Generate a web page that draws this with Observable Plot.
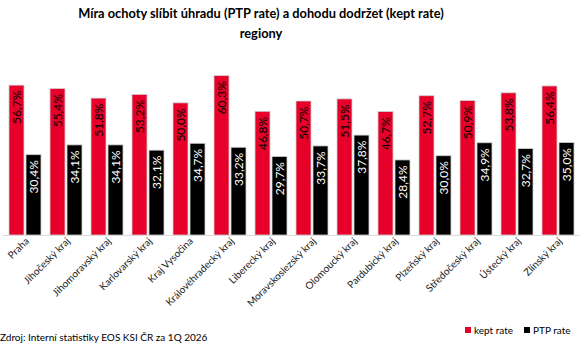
<!DOCTYPE html>
<html><head><meta charset="utf-8">
<script src="https://cdn.jsdelivr.net/npm/d3@7"></script>
<script src="https://cdn.jsdelivr.net/npm/@observablehq/plot@0.6"></script>
<style>
body{margin:0;width:584px;height:357px;position:relative;background:#fff;font-family:Lato,"Open Sans",sans-serif;overflow:hidden}
#title{position:absolute;left:0;top:3px;width:522px;text-align:center;font-weight:bold;font-size:12.8px;line-height:20px;color:#000}
#chart{position:absolute;left:0;top:40px}
#caption{position:absolute;left:0;top:331px;font-size:10px;color:#000}
#legend{position:absolute;left:465px;top:324px;font-size:10px;color:#000;display:flex;align-items:center}
#legend span.sw{display:inline-block;width:6px;height:6px;margin-right:3px}
#legend span.it{display:flex;align-items:center;margin-right:11px}
</style></head>
<body>
<div id="title">Míra ochoty slíbit úhradu (PTP rate) a dohodu dodržet (kept rate)<br>regiony</div>
<div id="chart"></div>
<div id="caption">Zdroj: Interní statistiky EOS KSI ČR za 1Q 2026</div>
<div id="legend"></div>
<script>
const regions = ["Praha","Jihočeský kraj","Jihomoravský kraj","Karlovarský kraj","Kraj Vysočina","Královéhradecký kraj","Liberecký kraj","Moravskoslezský kraj","Olomoucký kraj","Pardubický kraj","Plzeňský kraj","Středočeský kraj","Ústecký kraj","Zlínský kraj"];
const keptRate = [56.7,55.4,51.8,53.2,50.0,60.3,46.8,50.7,51.5,46.7,52.7,50.9,53.8,56.4];
const ptpRate  = [30.4,34.1,34.1,32.1,34.7,33.2,29.7,33.7,37.8,28.4,30.0,34.9,32.7,35.0];
const seriesNames = ["kept rate","PTP rate"];
const seriesColors = ["#e6002a","#000000"];
const labelColors = ["#000000","#ffffff"];

const data = [];
regions.forEach((r,i)=>{
  data.push({region:r, series:seriesNames[0], value:keptRate[i]});
  data.push({region:r, series:seriesNames[1], value:ptpRate[i]});
});
const fmt = v => v.toFixed(1).replace(".", ",") + "%";

const chart = Plot.plot({
  width:584, height:280,
  marginLeft:2, marginRight:3, marginTop:10, marginBottom:85,
  style:{fontFamily:"Lato, 'Open Sans', sans-serif", background:"transparent"},
  fx:{domain:regions, padding:0.18, label:null},
  x:{domain:seriesNames, paddingInner:0.11, paddingOuter:0, axis:null},
  y:{domain:[0,70], axis:null},
  color:{domain:seriesNames, range:seriesColors},
  marks:[
    Plot.barY(data,{fx:"region", x:"series", y:"value", fill:"series", stroke:"#cfcfcf", strokeWidth:0.8}),
    Plot.ruleY([0],{stroke:"#d9d9d9", insetLeft:-5, insetRight:-5}),
    Plot.text(data,{fx:"region", x:"series", y:"value", text:d=>fmt(d.value), rotate:-90, textAnchor:"end", lineAnchor:"middle", dy:5, fontSize:12,
      fill:d=>labelColors[seriesNames.indexOf(d.series)]}),
    Plot.axisFx({anchor:"bottom", tickRotate:-45, tickSize:0, tickPadding:4, fontSize:10, label:null, fill:"#222", dx:2})
  ]
});
document.getElementById("chart").appendChild(chart);

const leg = document.getElementById("legend");
seriesNames.forEach((s,i)=>{
  const it = document.createElement("span"); it.className="it";
  const sw = document.createElement("span"); sw.className="sw"; sw.style.background=seriesColors[i];
  it.appendChild(sw); it.appendChild(document.createTextNode(s)); leg.appendChild(it);
});
</script>
</body></html>
